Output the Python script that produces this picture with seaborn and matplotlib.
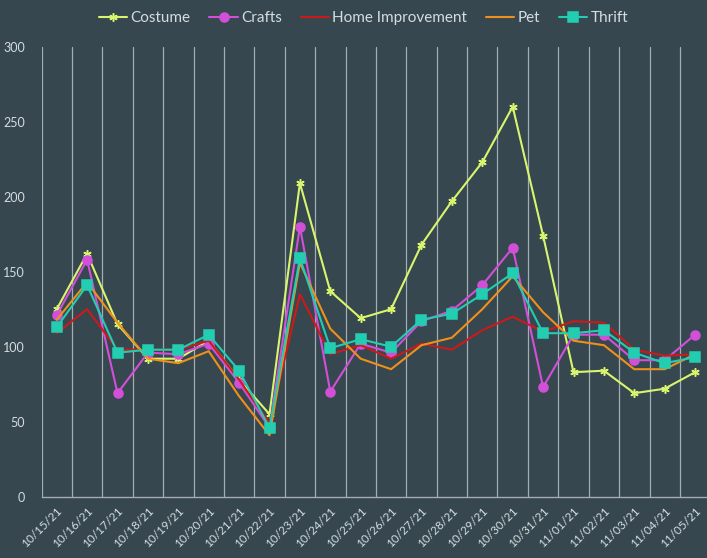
import matplotlib
matplotlib.use("Agg")
import matplotlib.pyplot as plt
import seaborn as sns
import pandas as pd
import numpy as np

dates = ["10/15/21", "10/16/21", "10/17/21", "10/18/21", "10/19/21", "10/20/21",
         "10/21/21", "10/22/21", "10/23/21", "10/24/21", "10/25/21", "10/26/21",
         "10/27/21", "10/28/21", "10/29/21", "10/30/21", "10/31/21", "11/01/21",
         "11/02/21", "11/03/21", "11/04/21", "11/05/21"]

costume = [125, 162, 115, 92, 92, 104, 78, 55, 209, 137, 119, 125, 168, 197, 223, 260,
           174, 83, 84, 69, 72, 83]
crafts = [121, 158, 69, 96, 95, 102, 76, 46, 180, 70, 102, 96, 117, 124, 141, 166,
          73, 108, 108, 91, 91, 108]
home_improvement = [109, 125, 98, 98, 98, 104, 78, 49, 135, 95, 101, 92, 102, 98, 111, 120,
                    110, 117, 116, 98, 94, 95]
pet = [118, 143, 116, 92, 89, 97, 67, 41, 156, 112, 92, 85, 101, 106, 125, 147,
       123, 104, 101, 85, 85, 95]
thrift = [113, 141, 96, 98, 98, 108, 84, 46, 159, 99, 105, 100, 118, 122, 135, 149,
          109, 109, 111, 96, 89, 93]

series_names = ["Costume", "Crafts", "Home Improvement", "Pet", "Thrift"]
series_values = [costume, crafts, home_improvement, pet, thrift]
colors = ["#d9f56e", "#d24fd8", "#cc1a1a", "#f0901c", "#23cdb2"]
markers = [(6, 2, 0), "o", None, None, "s"]
marker_sizes = [6, 6.5, 0, 0, 6.5]

bg = "#36474f"
text_col = "#d5dde0"
grid_col = "#a3adb2"

sns.set_theme(style="dark")
plt.rcParams["font.family"] = ["Lato", "DejaVu Sans"]

fig = plt.figure(figsize=(7.07, 5.58), dpi=100, facecolor=bg)
ax = fig.add_axes([41.5 / 707, 61.3 / 558, (22 * 30.4) / 707, (496.7 - 46.7) / 558])
ax.set_facecolor(bg)

idx = np.arange(len(dates))
for name, vals, c, m, ms in zip(series_names, series_values, colors, markers, marker_sizes):
    df = pd.DataFrame({"x": idx, "y": vals})
    kw = dict(marker=m, markersize=ms, markeredgecolor=c, markerfacecolor=c,
              markeredgewidth=1.1) if m is not None else {}
    sns.lineplot(data=df, x="x", y="y", ax=ax, color=c, linewidth=1.5, label=name, **kw)

ax.set_xlim(-0.5, len(dates) - 0.5)
ax.set_ylim(0, 300)
ax.set_yticks([0, 50, 100, 150, 200, 250, 300])
ax.set_xticks(idx)
ax.set_xticklabels(dates, rotation=45, ha="right", va="top", rotation_mode="anchor")
ax.set_xticks(np.arange(-0.5, len(dates), 1.0), minor=True)
ax.tick_params(axis="x", which="major", length=0, pad=6, colors=text_col, labelsize=8.5)
ax.tick_params(axis="x", which="minor", length=4, color=grid_col, direction="out")
ax.tick_params(axis="y", length=0, pad=12, colors=text_col, labelsize=9)
ax.grid(False)
for b in np.arange(-0.5, len(dates), 1.0):
    ax.axvline(b, color=grid_col, linewidth=0.9, zorder=0)
ax.set_xlabel("")
ax.set_ylabel("")
for s in ["top", "right", "left"]:
    ax.spines[s].set_visible(False)
ax.spines["bottom"].set_color(grid_col)
ax.spines["bottom"].set_linewidth(1.0)

ax_w = 22 * 30.4
leg = ax.legend(loc="center", bbox_to_anchor=((363.5 - 41.5) / ax_w, (558 - 18 - 61.3) / 450),
                ncol=5, frameon=False, fontsize=11, handlelength=1.85, columnspacing=1.25,
                handletextpad=0.2, labelcolor=text_col, borderaxespad=0)
fig.savefig("out.png", dpi=100, facecolor=bg)
